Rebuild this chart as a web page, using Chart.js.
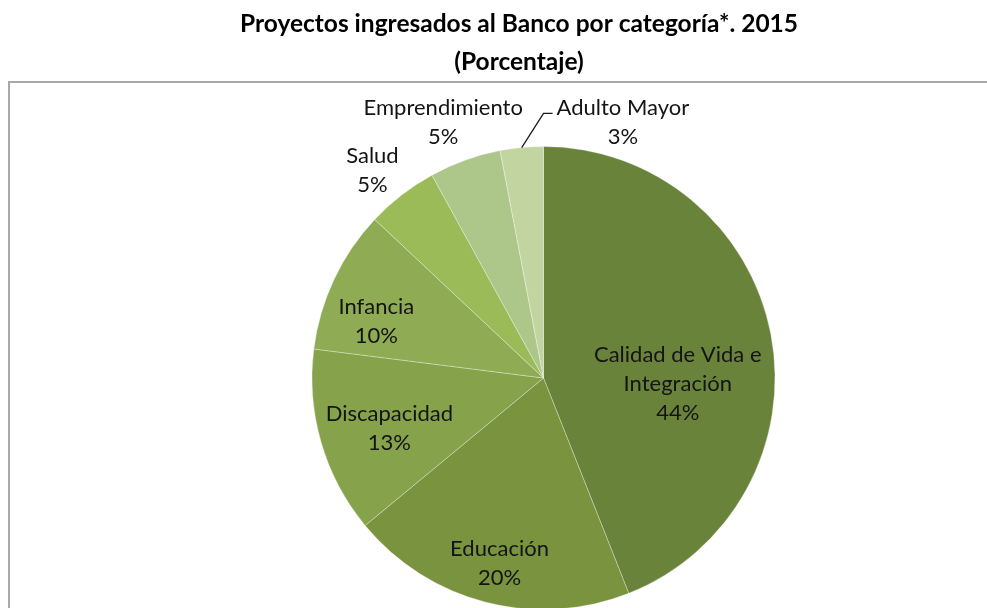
<!DOCTYPE html>
<html>
<head>
<meta charset="utf-8">
<script src="https://cdn.jsdelivr.net/npm/chart.js@4.4.1/dist/chart.umd.min.js"></script>
<style>
  html, body { margin: 0; padding: 0; background: #ffffff; overflow: hidden; }
  #wrap { position: relative; width: 987px; height: 620px; }
</style>
</head>
<body>
<div id="wrap"><canvas id="c" width="987" height="620"></canvas></div>
<script>
// ---- Data ----
const titleLines = ['Proyectos ingresados al Banco por categoría*. 2015', '(Porcentaje)'];
const categories = ['Calidad de Vida e Integración', 'Educación', 'Discapacidad', 'Infancia', 'Salud', 'Emprendimiento', 'Adulto Mayor'];
const labelLines = [['Calidad de Vida e', 'Integración'], ['Educación'], ['Discapacidad'], ['Infancia'], ['Salud'], ['Emprendimiento'], ['Adulto Mayor']];
const percentages = [44, 20, 13, 10, 5, 5, 3];
const sliceColors = ['#6a833b', '#79933f', '#86a24b', '#8fac55', '#9bbb59', '#adc689', '#c2d5a1'];

// label placement, as fractions of the pie radius relative to its centre (style only)
const labelOffsets = [[0.58, 0.026], [-0.19, 0.80], [-0.666, 0.216], [-0.722, -0.244], [-0.739, -0.897], [-0.433, -1.106], [0.343, -1.106]];

const FONT = 'Lato, "Open Sans", sans-serif';

const decorPlugin = {
  id: 'decor',
  beforeDraw(chart) {
    const ctx = chart.ctx;
    ctx.save();
    ctx.fillStyle = '#ffffff';
    ctx.fillRect(0, 0, chart.width, chart.height);
    // frame
    ctx.strokeStyle = '#a9a9a9';
    ctx.lineWidth = 2;
    ctx.strokeRect(9, 82, 1100, 700);
    // title
    ctx.fillStyle = '#000000';
    ctx.textAlign = 'center';
    ctx.textBaseline = 'middle';
    ctx.font = 'bold 24.5px ' + FONT;
    ctx.fillText(titleLines[0], 519, 24);
    ctx.fillText(titleLines[1], 519, 62);
    ctx.restore();
  },
  afterDatasetsDraw(chart) {
    const ctx = chart.ctx;
    const meta = chart.getDatasetMeta(0);
    const arc0 = meta.data[0];
    const cx = arc0.x, cy = arc0.y, r = arc0.outerRadius;
    ctx.save();
    ctx.fillStyle = '#141414';
    ctx.textAlign = 'center';
    ctx.textBaseline = 'middle';
    ctx.font = '22px ' + FONT;
    const lh = 29;
    meta.data.forEach((arc, i) => {
      const lines = labelLines[i].concat([percentages[i] + '%']);
      const x = cx + labelOffsets[i][0] * r;
      const y = cy + labelOffsets[i][1] * r;
      const top = y - (lines.length - 1) * lh / 2;
      lines.forEach((t, k) => ctx.fillText(t, x, top + k * lh));
    });
    // leader line for the smallest slice
    const li = meta.data.length - 1;
    const last = meta.data[li];
    const mid = (last.startAngle + last.endAngle) / 2;
    const px = cx + Math.cos(mid) * r;
    const py = cy + Math.sin(mid) * r;
    const lx = cx + labelOffsets[li][0] * r;
    const topY = cy + labelOffsets[li][1] * r - lh / 2;
    const ly = topY + 6;
    const tw = ctx.measureText(labelLines[li][0]).width;
    ctx.strokeStyle = '#1a1a1a';
    ctx.lineWidth = 1.3;
    ctx.beginPath();
    ctx.moveTo(px, py);
    ctx.lineTo(cx, ly);
    ctx.lineTo(lx - tw / 2 - 4, ly);
    ctx.stroke();
    ctx.restore();
  }
};

new Chart(document.getElementById('c'), {
  type: 'pie',
  data: {
    labels: categories,
    datasets: [{
      data: percentages,
      backgroundColor: sliceColors,
      borderColor: 'rgba(255,255,255,0.3)',
      borderWidth: 1
    }]
  },
  options: {
    responsive: false,
    animation: false,
    events: [],
    layout: { padding: { top: 146, bottom: 10, left: 311, right: 211 } },
    plugins: {
      legend: { display: false },
      title: { display: false },
      tooltip: { enabled: false }
    }
  },
  plugins: [decorPlugin]
});
</script>
</body>
</html>
